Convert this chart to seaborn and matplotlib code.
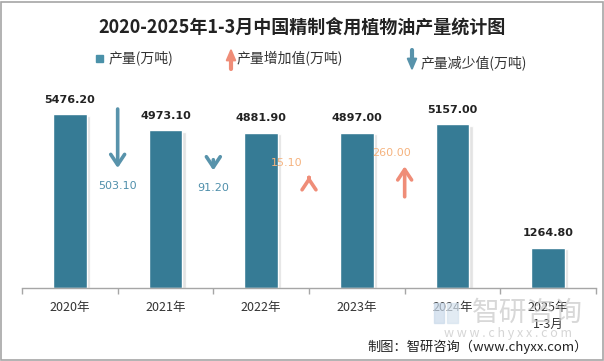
import numpy as np
import pandas as pd
import matplotlib
matplotlib.use("Agg")
import matplotlib.pyplot as plt
from matplotlib.patches import Rectangle, FancyArrowPatch
import seaborn as sns

# data
years = ["2020年", "2021年", "2022年", "2023年", "2024年", "2025年\n1-3月"]
output = [5476.20, 4973.10, 4881.90, 4897.00, 5157.00, 1264.80]
# change between neighbouring full years (2020->2021 ... 2023->2024)
changes = [-503.10, -91.20, 15.10, 260.00]

# layout of the change arrows (vertical centre of each arrow, label offsets)
arrow_mid = [4713, 3877, 3500, 3357]
label_x_shift = [0.0, 0.0, -0.23, -0.14]

bar_color = "#367b95"
down_color = "#5893ab"
down_text = "#4f8fab"
up_color = "#ef8d78"
up_text = "#f5b37f"

sns.set_theme(style="white")
plt.rcParams["font.family"] = ["Noto Sans CJK SC", "DejaVu Sans"]

fig = plt.figure(figsize=(6.04, 3.61), dpi=100)
ax = fig.add_axes([22 / 604, 73 / 361, 574 / 604, 222 / 361])

df = pd.DataFrame({"year": years, "output": output})

# soft shadow to the right of each bar
xs = np.arange(len(years))
ax.bar(xs + 0.035, df["output"] - 40, width=0.35, color="#dcdcdc", alpha=0.8, zorder=1)

sns.barplot(data=df, x="year", y="output", order=years, color=bar_color,
            width=0.35, edgecolor="white", linewidth=1, saturation=1, ax=ax, zorder=2)

ax.set_xlim(-0.5, len(years) - 0.5)
ax.set_ylim(0, 7000)
ax.set_xlabel("")
ax.set_ylabel("")
ax.set_yticks([])
for s in ["top", "right", "left"]:
    ax.spines[s].set_visible(False)
ax.spines["bottom"].set_color("#a6a6a6")
ax.spines["bottom"].set_linewidth(1)

ax.set_xticks(xs)
ax.set_xticklabels(years, fontsize=9, color="#333333", linespacing=1.45)
ax.tick_params(axis="x", which="major", length=0, pad=9)
ax.set_xticks(np.arange(-0.5, len(years), 1.0), minor=True)
ax.tick_params(axis="x", which="minor", length=4, color="#a6a6a6", width=1,
               direction="out", bottom=True)

# value labels above bars
for i, v in enumerate(output):
    ax.annotate(f"{v:.2f}", (i, v), xytext=(0, 7), textcoords="offset points",
                ha="center", va="bottom", fontsize=8, fontweight="bold",
                color="#222222", family="DejaVu Sans")

# change arrows between bars (length proportional to the change)
k = 3.7
for i, (c, m) in enumerate(zip(changes, arrow_mid)):
    x = i + 0.5
    half = abs(c) * k / 2
    if c < 0:
        y0, y1, col, tcol = m + half, m - half, down_color, down_text
        ty = y1 - 560
    else:
        y0, y1, col, tcol = m - half, m + half, up_color, up_text
        ty = y1 + 420
    ax.annotate("", xy=(x, y1), xytext=(x, y0),
                arrowprops=dict(arrowstyle="->, head_length=0.75, head_width=0.5",
                                color=col, lw=2.6, shrinkA=0, shrinkB=0,
                                mutation_scale=10), zorder=4)
    ax.text(x + label_x_shift[i], ty, f"{abs(c):.2f}", ha="center", va="center",
            fontsize=8, color=tcol, family="DejaVu Sans", zorder=5)

# title
fig.text(302 / 604, 1 - 27 / 361, "2020-2025年1-3月中国精制食用植物油产量统计图",
         ha="center", va="center", fontsize=13, fontweight="bold", color="#222222")

# legend (drawn by hand to match the arrow glyphs)
fig.patches.append(Rectangle((96 / 604, 1 - 62 / 361), 7 / 604, 7 / 361,
                             transform=fig.transFigure, color="#4a91a9"))
fig.text(109 / 604, 1 - 58 / 361, "产量(万吨)", ha="left", va="center",
         fontsize=10, color="#333333")
fig.patches.append(FancyArrowPatch(
    (231 / 604, 1 - 69 / 361), (231 / 604, 1 - 48 / 361), transform=fig.transFigure,
    arrowstyle="-|>, head_length=0.7, head_width=0.3", mutation_scale=10,
    color=up_color, lw=1.5, shrinkA=0, shrinkB=0))
fig.patches.append(FancyArrowPatch(
    (231 / 604, 1 - 69 / 361), (231 / 604, 1 - 55 / 361), transform=fig.transFigure,
    arrowstyle="-", color=up_color, lw=3, shrinkA=0, shrinkB=0))
fig.text(237 / 604, 1 - 59 / 361, "产量增加值(万吨)", ha="left", va="center",
         fontsize=10, color="#333333")
fig.patches.append(FancyArrowPatch(
    (412 / 604, 1 - 50 / 361), (412 / 604, 1 - 71 / 361), transform=fig.transFigure,
    arrowstyle="-|>, head_length=0.7, head_width=0.3", mutation_scale=10,
    color=down_color, lw=1.5, shrinkA=0, shrinkB=0))
fig.patches.append(FancyArrowPatch(
    (412 / 604, 1 - 50 / 361), (412 / 604, 1 - 64 / 361), transform=fig.transFigure,
    arrowstyle="-", color=down_color, lw=3, shrinkA=0, shrinkB=0))
fig.text(421 / 604, 1 - 63 / 361, "产量减少值(万吨)", ha="left", va="center",
         fontsize=10, color="#333333")

# watermark
fig.patches.append(Rectangle((434 / 604, 1 - 323 / 361), 10 / 604, 20 / 361,
                             transform=fig.transFigure, color="#c9d9ea", alpha=0.7, zorder=0))
fig.patches.append(Rectangle((447 / 604, 1 - 323 / 361), 11 / 604, 20 / 361,
                             transform=fig.transFigure, color="#d6e3ef", alpha=0.7, zorder=0))
fig.text(527 / 604, 1 - 313 / 361, "智研咨询", ha="center", va="center",
         fontsize=20, color="#c8c8c8", alpha=0.7, zorder=0)
fig.text(508 / 604, 1 - 334 / 361, "w w w . c h y x x . c o m", ha="center", va="center",
         fontsize=9, color="#c8c8c8", alpha=0.75, zorder=0)

# footer
fig.text(588 / 604, 1 - 347 / 361, "制图：智研咨询（www.chyxx.com）", ha="right",
         va="center", fontsize=9.5, color="#222222")

# outer frame
fig.patches.append(Rectangle((0.5 / 604, 1.5 / 361), 602 / 604, 358 / 361,
                             transform=fig.transFigure, fill=False,
                             edgecolor="#a6a6a6", lw=1.2))

fig.savefig("out.png", dpi=100, facecolor="white")
